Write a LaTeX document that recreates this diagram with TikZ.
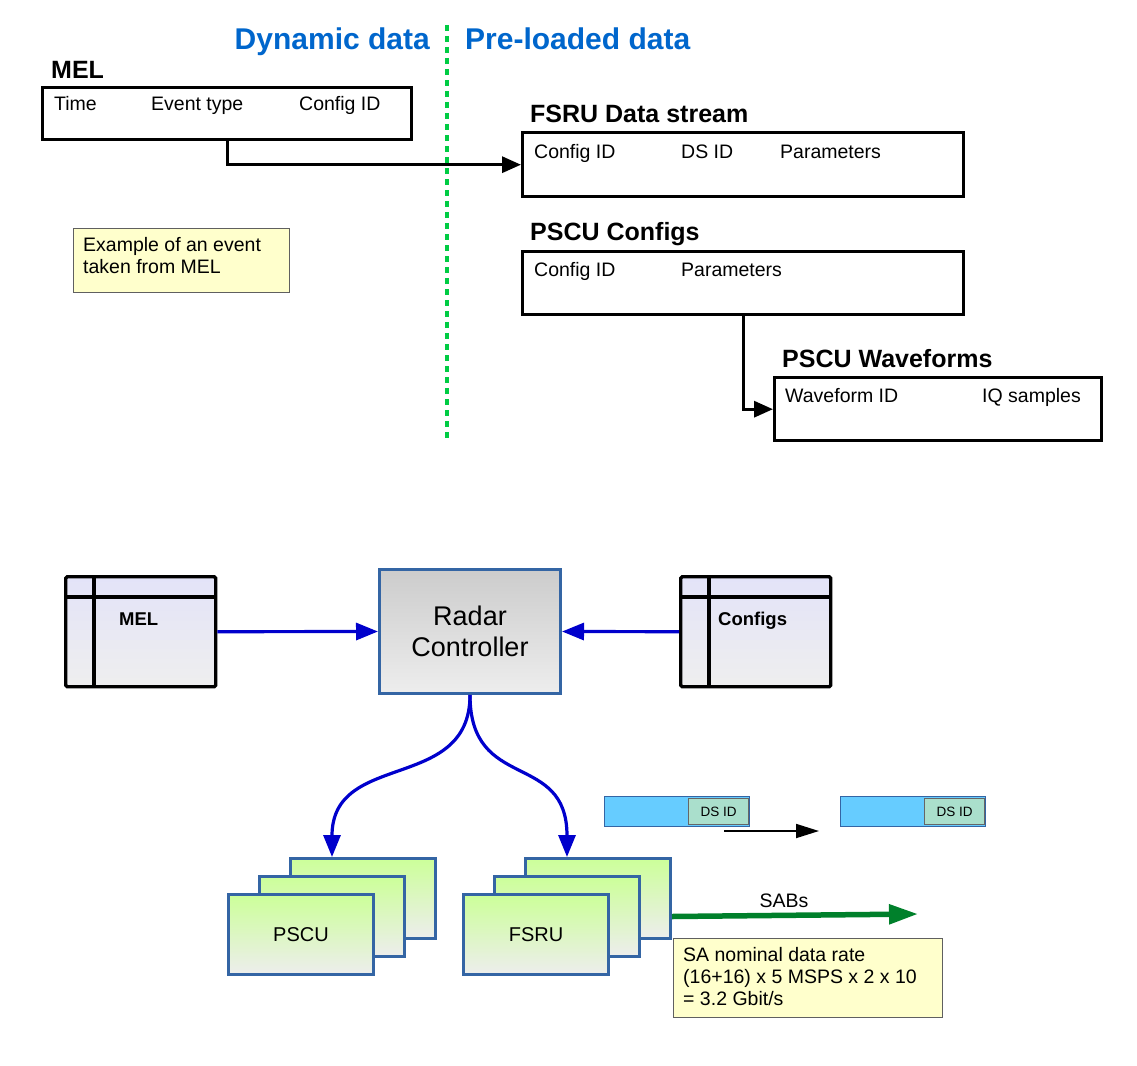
\documentclass[tikz,border=0pt]{standalone}
\usepackage{fontspec}
\setmainfont{Liberation Sans}
\usetikzlibrary{arrows.meta, positioning, calc}
\definecolor{headblue}{HTML}{0066CC}
\definecolor{dotgreen}{HTML}{00CC44}
\definecolor{frameblue}{HTML}{3465A4}
\definecolor{linkblue}{HTML}{0000CC}
\definecolor{notefill}{HTML}{FFFFCC}
\definecolor{sabgreen}{HTML}{00802B}
\definecolor{streamblue}{HTML}{66CCFF}
\definecolor{idgreen}{HTML}{AADFCC}
\definecolor{tablav}{HTML}{E3E3F8}
\definecolor{boardgreen}{HTML}{CCFF99}

\begin{document}
\begin{tikzpicture}[x=1pt, y=-1pt,
	head/.style={text=headblue, font=\fontsize{30}{36}\selectfont\bfseries, inner sep=0pt},
	title/.style={font=\fontsize{25}{30}\selectfont\bfseries, inner sep=0pt, anchor=base west},
	field/.style={font=\fontsize{19.5}{23}\selectfont, inner sep=0pt, anchor=base west},
	record/.style={draw, line width=3.4pt, anchor=north west, inner sep=0pt},
	note/.style={draw=gray!75!black, line width=1pt, fill=notefill, anchor=north west, inner sep=0pt},
	link/.style={line width=3.2pt, -{Triangle[length=19pt, width=16pt]}},
	divider/.style={dotgreen, line width=3.2pt, dash pattern=on 6pt off 5pt},
	tabbox/.style={draw, line width=3.4pt, rounded corners=1.5pt, top color=tablav, bottom color=gray!13,
		anchor=north west, minimum width=150, minimum height=110},
	tabline/.style={line width=3.4pt},
	tablabel/.style={font=\fontsize{18.5}{22}\selectfont\bfseries, inner sep=0pt, anchor=base west},
	ctrl/.style={draw=frameblue, line width=3pt, top color=gray!40, bottom color=gray!14, anchor=north west,
		minimum width=181, minimum height=124, align=center, font=\fontsize{27}{31}\selectfont},
	board/.style={draw=frameblue, line width=3pt, top color=boardgreen, bottom color=gray!14, anchor=north west,
		minimum width=145, minimum height=80, font=\fontsize{20}{24}\selectfont},
	feed/.style={linkblue, line width=3.2pt, -{Triangle[length=22pt, width=17pt]}},
	sab/.style={sabgreen, line width=5.5pt, -{Triangle[length=29pt, width=19pt]}},
	stream/.style={draw=frameblue, line width=1.2pt, fill=streamblue, anchor=north west, minimum width=145, minimum height=30},
	dsid/.style={draw=gray!80!black, line width=1pt, fill=idgreen, minimum width=60, minimum height=26,
		inner sep=0pt, font=\fontsize{13.5}{15}\selectfont},
	hop/.style={line width=1.8pt, -{Triangle[length=23pt, width=14pt]}}]

	\useasboundingbox (0,0) rectangle (1137,1065);

	\node[head, anchor=base east] (dyn) at (430,50) {Dynamic data};
	\node[head, anchor=base west] (pre) at (465,50) {Pre-loaded data};
	\coordinate (divtop) at (447,25);
	\coordinate (divbot) at (447,438);
	\draw[divider] (divtop) -- (divbot);

	\node[title] (meltit) at (51,78) {MEL};
	\node[record, minimum width=369, minimum height=52] (melrec) at (41,86) {};
	\node[field] (meltime) at (54,110) {Time};
	\node[field] (melevt) at (151,110) {Event type};
	\node[field] (melcfg) at (299,110) {Config ID};

	\node[title] (fsrutit) at (530,122) {FSRU Data stream};
	\node[record, minimum width=441, minimum height=64] (fsrurec) at (521,131) {};
	\node[field] (fsrucfg) at (534,158) {Config ID};
	\node[field] (fsruds) at (681,158) {DS ID};
	\node[field] (fsrupar) at (780,158) {Parameters};

	\node[title] (cfgtit) at (530,240) {PSCU Configs};
	\node[record, minimum width=441, minimum height=63] (cfgrec) at (521,250) {};
	\node[field] (cfgcfg) at (534,276) {Config ID};
	\node[field] (cfgpar) at (681,276) {Parameters};

	\node[title] (wftit) at (782,367) {PSCU Waveforms};
	\node[record, minimum width=327, minimum height=63] (wfrec) at (773,376) {};
	\node[field] (wfid) at (785,402) {Waveform ID};
	\node[field] (wfiq) at (982,402) {IQ samples};

	\draw[link] (melrec.south) |- (fsrurec.west);
	\draw[link] (cfgrec.south) |- (wfrec.west);

	\node[note, minimum width=216, minimum height=64] (evnote) at (73,228) {};
	\node[field] (evline1) at (83,251) {Example of an event};
	\node[field] (evline2) at (83,273) {taken from MEL};

	\node[tabbox] (tmel) at (64,575) {};
	\draw[tabline] ($(tmel.north west)+(0,22)$) -- ($(tmel.north east)+(0,22)$);
	\draw[tabline] ($(tmel.north west)+(30,0)$) -- ($(tmel.south west)+(30,0)$);
	\node[tablabel] (tmellab) at (119,625) {MEL};

	\node[tabbox] (tcfg) at (679,575) {};
	\draw[tabline] ($(tcfg.north west)+(0,22)$) -- ($(tcfg.north east)+(0,22)$);
	\draw[tabline] ($(tcfg.north west)+(30,0)$) -- ($(tcfg.south west)+(30,0)$);
	\node[tablabel] (tcfglab) at (718,625) {Configs};

	\node[ctrl] (radar) at (378,568) {Radar\\Controller};

	\draw[feed] (tmel.east) -- (radar.west);
	\draw[feed] (tcfg.west) -- (radar.east);

	\node[board] (pscuback) at (289,857) {};
	\node[board] (pscumid) at (258,875) {};
	\node[board] (pscufront) at (227,893) {PSCU};

	\node[board] (fsruback) at (524,857) {};
	\node[board] (fsrumid) at (493,875) {};
	\node[board] (fsrufront) at (462,893) {FSRU};

	\draw[feed] (radar.south) .. controls +(0,98) and +(0,-107) .. (pscumid.north |- pscuback.north);
	\draw[feed] (radar.south) .. controls +(0,98) and +(0,-107) .. (fsrumid.north |- fsruback.north);

	\coordinate (sabend) at (918,914);
	\draw[sab] (fsruback.east |- fsrumid.east) -- (sabend);
	\node[field, anchor=base] (sablab) at (784,907) {SABs};

	\node[note, minimum width=269, minimum height=79] (sanote) at (673,938) {};
	\node[field] (saline1) at (683,961) {SA nominal data rate};
	\node[field] (saline2) at (683,983) {(16+16) x 5 MSPS x 2 x 10};
	\node[field] (saline3) at (683,1005) {= 3.2 Gbit/s};

	\node[stream] (dsa) at (604,796) {};
	\node[dsid, anchor=east] (dsaid) at ($(dsa.east)+(-1,0)$) {DS ID};
	\node[stream] (dsb) at (840,796) {};
	\node[dsid, anchor=east] (dsbid) at ($(dsb.east)+(-1,0)$) {DS ID};
	\coordinate (dsfrom) at (724,831);
	\coordinate (dsto) at (819,831);
	\draw[hop] (dsfrom) -- (dsto);

\end{tikzpicture}
\end{document}
